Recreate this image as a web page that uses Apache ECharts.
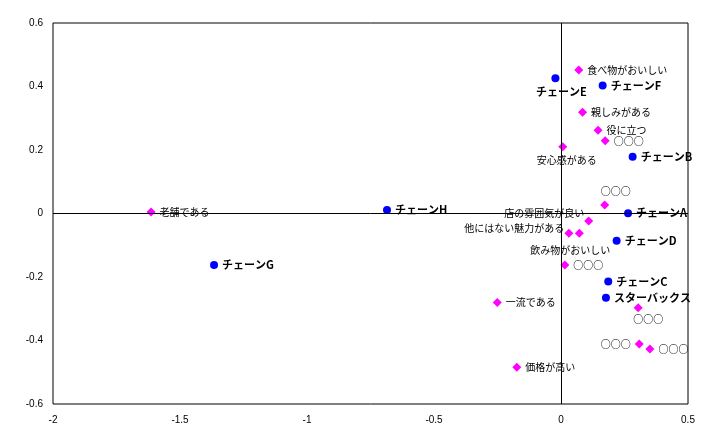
<!DOCTYPE html>
<html><head><meta charset="utf-8">
<script src="https://cdn.jsdelivr.net/npm/echarts@6/dist/echarts.min.js"></script>
<style>html,body{margin:0;padding:0;background:#fff}#c{width:719px;height:445px}</style>
</head><body><div id="c"></div>
<script>
// Chains (blue circles)
const chainNames = ['チェーンE','チェーンF','チェーンB','チェーンA','チェーンD','チェーンC','スターバックス','チェーンH','チェーンG'];
const chainX = [-0.022, 0.164, 0.282, 0.264, 0.219, 0.186, 0.177, -0.685, -1.366];
const chainY = [0.426, 0.403, 0.179, 0.001, -0.086, -0.214, -0.265, 0.011, -0.162];

// Attributes (magenta diamonds)
const attrNames = ['食べ物がおいしい','親しみがある','役に立つ','○○○','安心感がある','○○○','店の雰囲気が良い','他にはない魅力がある','飲み物がおいしい','○○○','一流である','○○○','○○○','○○○','価格が高い','老舗である'];
const attrX = [0.070, 0.085, 0.146, 0.174, 0.007, 0.172, 0.109, 0.031, 0.072, 0.015, -0.251, 0.304, 0.308, 0.350, -0.174, -1.614];
const attrY = [0.452, 0.319, 0.262, 0.229, 0.210, 0.027, -0.024, -0.062, -0.062, -0.162, -0.280, -0.297, -0.411, -0.427, -0.484, 0.005];

// Axis ticks
const xTicks = [-2, -1.5, -1, -0.5, 0, 0.5];
const yTicks = [-0.6, -0.4, -0.2, 0, 0.2, 0.4, 0.6];

// Label placement (style, separate from data)
const chainLabelPlace = [
  {position:'bottom', offset:[6,0]}, {position:'right'}, {position:'right'}, {position:'right'},
  {position:'right'}, {position:'right'}, {position:'right'}, {position:'right'}, {position:'right'}
];
const attrLabelPlace = [
  {position:'right'}, {position:'right'}, {position:'right'}, {position:'right'},
  {position:'bottom', offset:[4,0]}, {position:'top', offset:[11,0]},
  {position:'left', offset:[4,-8]}, {position:'left', offset:[4,-5]},
  {position:'bottom', offset:[-9,4]}, {position:'right'}, {position:'right'},
  {position:'bottom', offset:[10,-2]}, {position:'left'}, {position:'right'},
  {position:'right'}, {position:'right'}
];

const chainData = chainNames.map((n,i)=>({name:n, value:[chainX[i], chainY[i]], label:Object.assign({}, chainLabelPlace[i])}));
const attrData = attrNames.map((n,i)=>({name:n, value:[attrX[i], attrY[i]], label:Object.assign({}, attrLabelPlace[i])}));

const chart = echarts.init(document.getElementById('c'));
const tickFont = {fontFamily:'Liberation Sans, Arial, sans-serif', fontSize:10, color:'#000'};
chart.setOption({
  animation:false,
  backgroundColor:'#fff',
  grid:{left:53, right:31, top:23, bottom:41, show:true, borderColor:'#000', borderWidth:1, containLabel:false},
  xAxis:{type:'value', min:xTicks[0], max:xTicks[xTicks.length-1], interval:0.5,
    axisLine:{show:false}, axisTick:{show:false}, splitLine:{show:false},
    axisLabel:Object.assign({margin:11}, tickFont)},
  yAxis:{type:'value', min:yTicks[0], max:yTicks[yTicks.length-1], interval:0.2,
    axisLine:{show:false}, axisTick:{show:false}, splitLine:{show:false},
    axisLabel:Object.assign({margin:10, formatter:v=>String(+v.toFixed(1))}, tickFont)},
  series:[
    {type:'scatter', data:attrData, symbol:'diamond', symbolSize:9, itemStyle:{color:'#FF00FF', opacity:1},
     label:{show:true, formatter:'{b}', distance:4, color:'#000', fontSize:10, fontFamily:'Noto Sans CJK JP, sans-serif'},
     markLine:{silent:true, symbol:'none', label:{show:false}, lineStyle:{color:'#000', width:1, type:'solid'},
       data:[{xAxis:0},{yAxis:0}]},
     z:3},
    {type:'scatter', data:chainData, symbol:'circle', symbolSize:8, itemStyle:{color:'#0000FF', opacity:1},
     label:{show:true, formatter:'{b}', distance:4, color:'#000', fontSize:11, fontWeight:'bold', fontFamily:'Noto Sans CJK JP, sans-serif'},
     z:4}
  ]
});
</script></body></html>
